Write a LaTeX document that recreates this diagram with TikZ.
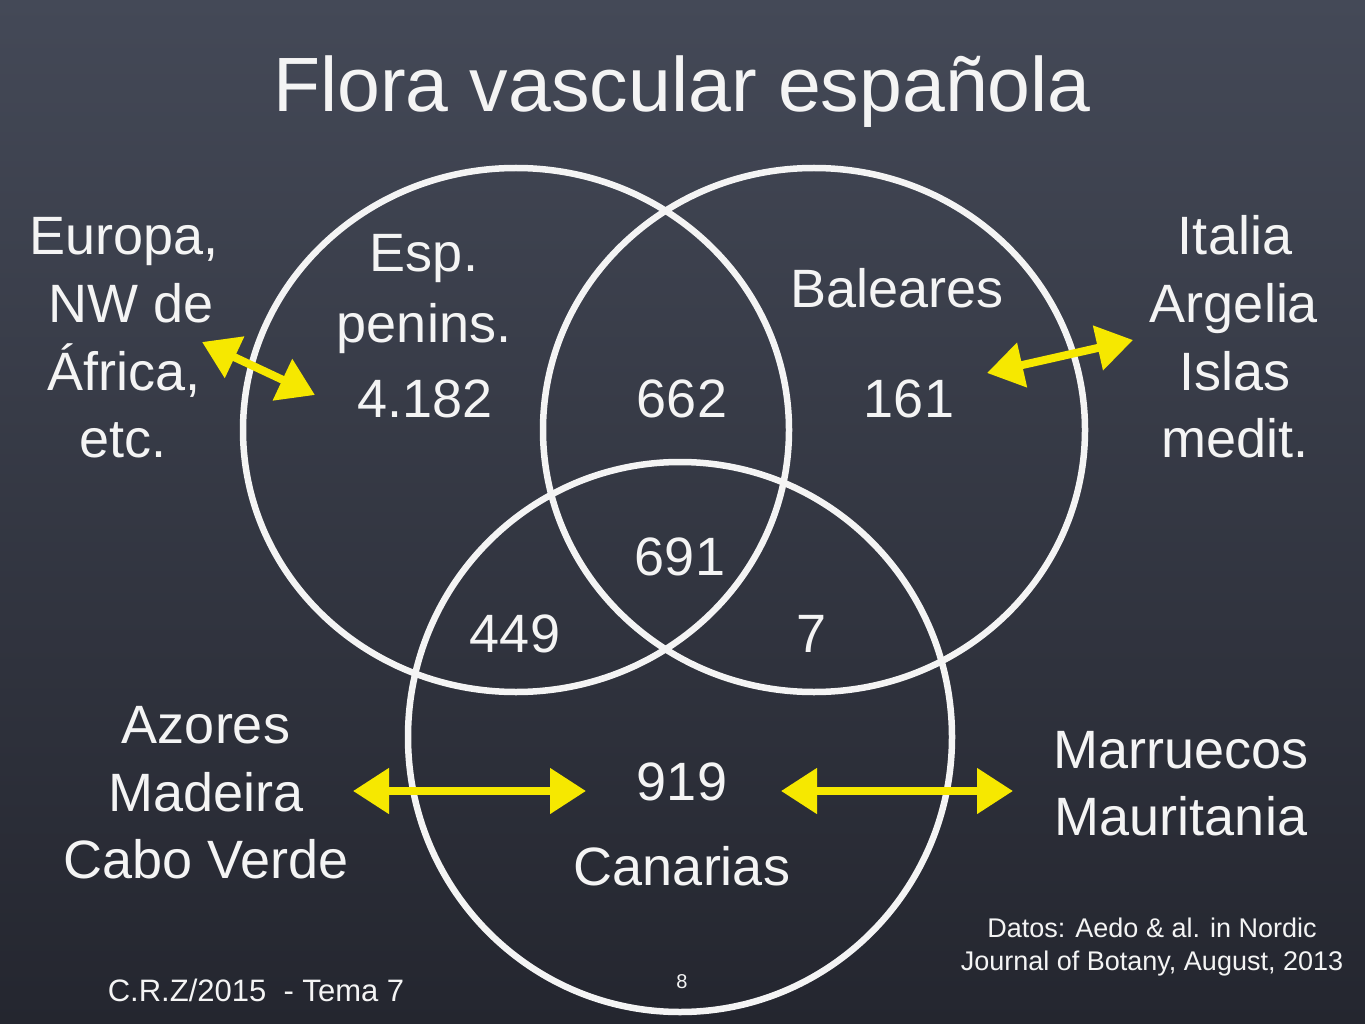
\documentclass[tikz,border=0pt]{standalone}
\usepackage{fontspec}
\setmainfont{Liberation Sans}
\usetikzlibrary{arrows.meta}
\definecolor{boardtop}{RGB}{68,73,87}
\definecolor{boardbot}{RGB}{36,38,47}
\definecolor{chalkyellow}{RGB}{246,232,0}
\definecolor{chalkwhite}{RGB}{244,244,244}
\begin{document}
\begin{tikzpicture}[x=1pt,y=-1pt,
  chalk/.style={draw=chalkwhite, line width=6.5pt},
  yarrow/.style={draw=chalkyellow, line width=8pt,
     {Triangle[length=36pt,width=44pt]}-{Triangle[length=36pt,width=44pt]}},
  lbl/.style={text=chalkwhite, anchor=base, inner sep=0pt},
  big/.style={lbl, font=\fontsize{54}{64}\selectfont},
  ttl/.style={lbl, font=\fontsize{77}{90}\selectfont},
  note/.style={lbl, font=\fontsize{27}{32}\selectfont},
  foot/.style={lbl, font=\fontsize{31}{34}\selectfont},
  pnum/.style={lbl, font=\fontsize{20}{24}\selectfont}]
\useasboundingbox (0,0) rectangle (1365,1024);
\shade[top color=boardtop, bottom color=boardbot] (0,0) rectangle (1365,1024);

% circles
\draw[chalk] (516,430) ellipse [x radius=273pt, y radius=262pt];
\draw[chalk] (814,430) ellipse [x radius=271pt, y radius=262pt];
\draw[chalk] (680,737) ellipse [x radius=272pt, y radius=275pt];

% title
\node[ttl] (title) at (682,112) {Flora vascular española};

% region labels
\node[big] (esp1) at (424,272) {Esp.};
\node[big] (esp2) at (424,342) {penins.};
\node[big] (n4182) at (425,417) {4.182};
\node[big] (n662) at (682,417) {662};
\node[big] (bal) at (897,307) {Baleares};
\node[big] (n161) at (909,417) {161};
\node[big] (n691) at (680,575) {691};
\node[big] (n449) at (515,652) {449};
\node[big] (n7) at (812,652) {7};
\node[big] (n919) at (682,800) {919};
\node[big] (can) at (682,885) {Canarias};

% outer labels
\node[big] (eu1) at (124,255) {Europa,};
\node[big] (eu2) at (131,322) {NW de};
\node[big] (eu3) at (124,390) {África,};
\node[big] (eu4) at (123,457) {etc.};

\node[big] (it1) at (1235,255) {Italia};
\node[big] (it2) at (1234,322) {Argelia};
\node[big] (it3) at (1235,390) {Islas};
\node[big] (it4) at (1235,457) {medit.};

\node[big] (az1) at (206,743) {Azores};
\node[big] (az2) at (206,811) {Madeira};
\node[big] (az3) at (206,878) {Cabo Verde};

\node[big] (ma1) at (1181,768) {Marruecos};
\node[big] (ma2) at (1181,835) {Mauritania};

\node[note] (dat1) at (1152,937) {Datos: Aedo \& al. in Nordic};
\node[note] (dat2) at (1152,970) {Journal of Botany, August, 2013};
\node[foot] (crz) at (256,1001) {C.R.Z/2015 \ - Tema 7};
\node[pnum] (pg) at (682,988) {8};

% arrows
\coordinate (a1s) at (202,342);
\coordinate (a1e) at (315,395);
\coordinate (a2s) at (987,373);
\coordinate (a2e) at (1133,340);
\coordinate (a3s) at (353,791);
\coordinate (a3e) at (586,791);
\coordinate (a4s) at (781,791);
\coordinate (a4e) at (1013,791);
\draw[yarrow] (a1s) -- (a1e);
\draw[yarrow] (a2s) -- (a2e);
\draw[yarrow] (a3s) -- (a3e);
\draw[yarrow] (a4s) -- (a4e);
\end{tikzpicture}
\end{document}
